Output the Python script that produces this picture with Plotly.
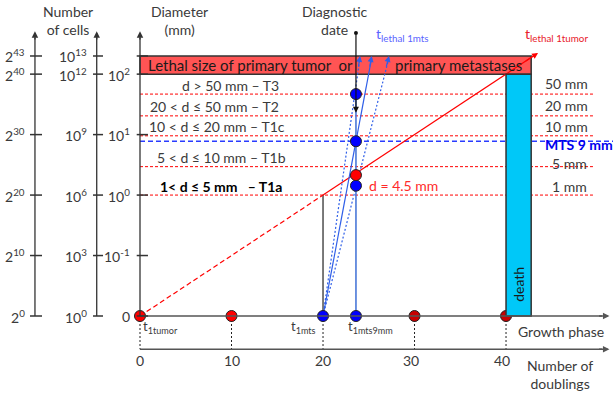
import plotly.graph_objects as go

# ---------------- data ----------------
pow2_exps = [0, 10, 20, 30, 40, 43]          # number of cells, base 2 (also the log2 y scale)
pow10_exps = [0, 3, 6, 9, 12, 13]            # number of cells, base 10
diam_tick_y = [0, 10, 20, 30, 40, 43]
diam_tick_labels = ["0", "10<sup>-1</sup>", "10<sup>0</sup>", "10<sup>1</sup>", "10<sup>2</sup>", ""]
doubling_ticks = [0, 10, 20, 30, 40]

threshold_mm = ["50 mm", "20 mm", "10 mm", "5 mm", "1 mm"]
threshold_y = [36.7, 33.1, 29.8, 24.7, 20.0]
threshold_label_y = [38.4, 34.8, 31.3, 25.2, 21.5]
threshold_label_x = [44.0, 44.0, 44.0, 44.8, 44.8]
stage_labels = ["d > 50 mm – T3", "20 < d ≤ 50 mm – T2", "10 < d ≤ 20 mm – T1c",
                "5 < d ≤ 10 mm – T1b", "<b>1< d ≤ 5 mm   – T1a</b>"]
stage_label_x = [9.84, 8.1, 8.4, 8.96, 8.9]
stage_label_y = [38.2, 34.7, 31.3, 26.2, 21.4]
mts_9mm_y = 28.9

lethal_y = [40, 43]         # lethal size band (log2 cells)
lethal_x_end = 42.75
death_x = [40, 42.75]

tumor_dots_x = [0, 10]
tumor_dots_late_x = [30, 40]
t_first_mts = 20
t_diag = 23.6
diag_dots_y = [36.7, 28.9, 21.55]   # blue dots at diagnostic date
red_diag_dot_y = 23.3
mts_line_end_x = [24.04, 25.32, 27.21]
mts_line_dash = ["2px,2px", "solid", "2px,2px"]
mts_line_top = 43.0
tumor_line = [0, 20, 43.5]   # y = x growth of primary tumor

X0, X1 = -15.3, 51.69
Y0, Y1 = -13.23, 52.26

FONT = "Lato, 'DejaVu Sans', sans-serif"
TXT = "#3a3a3a"
BLUE_LINE = "#2f5fe8"
fig = go.Figure()

def seg(x, y, color, width=1, dash="solid"):
    fig.add_trace(go.Scatter(x=x, y=y, mode="lines", line=dict(color=color, width=width, dash=dash),
                             hoverinfo="skip", showlegend=False))

def arrow(x, y, ax, ay, color, width=1.3, head=2, size=1):
    fig.add_annotation(x=x, y=y, ax=ax, ay=ay, xref="x", yref="y", axref="x", ayref="y",
                       showarrow=True, arrowhead=head, arrowsize=size, arrowwidth=width,
                       arrowcolor=color, text="")

def text(x, y, s, size=14, color=TXT, xanchor="center", yanchor="middle", angle=0):
    fig.add_annotation(x=x, y=y, xref="x", yref="y", text=s, showarrow=False,
                       font=dict(family=FONT, size=size, color=color),
                       xanchor=xanchor, yanchor=yanchor, textangle=angle)

# threshold dashed lines (red)
for ty in threshold_y:
    seg([0, 49.5], [ty, ty], "red", 1, "3px,2px")
# MTS 9 mm line (blue)
seg([0, 51.7], [mts_9mm_y, mts_9mm_y], "#2a3cff", 1.5, "5px,3px")

# dotted vertical guides to the doublings axis
for t in doubling_ticks:
    seg([t, t], [0, -5.5], "#222", 1, "2px,2px")

# black vertical at t_1mts up to 1 mm
seg([t_first_mts, t_first_mts], [0, 20], "#222", 1.2)

# primary tumour growth line
seg(tumor_line[:2], tumor_line[:2], "red", 1.2, "5px,3px")
seg([tumor_line[1], 43.2], [tumor_line[1], 43.2], "red", 1.2)
arrow(tumor_line[2], tumor_line[2], 42.0, 42.0, "red", 1.2)

# metastasis growth lines
for xe, d in zip(mts_line_end_x, mts_line_dash):
    seg([t_first_mts, xe], [0, mts_line_top - 0.3], BLUE_LINE, 1.2, d)
    frac = 2.0 / mts_line_top
    arrow(xe, mts_line_top, xe - (xe - t_first_mts) * frac, mts_line_top - 2.0, BLUE_LINE, 1.2)

# diagnostic date vertical
seg([t_diag, t_diag], [diag_dots_y[0], 0], "#4a78d8", 1.6)
arrow(t_diag, 33.6, t_diag, 46.8, "#111", 1.2)
fig.add_trace(go.Scatter(x=[t_diag], y=[46.8], mode="markers", marker=dict(color="#111", size=4),
                         hoverinfo="skip", showlegend=False))

# dots
mk = dict(size=11, line=dict(color="#222", width=1))
fig.add_trace(go.Scatter(x=tumor_dots_x, y=[0] * len(tumor_dots_x), mode="markers",
                         marker=dict(color="#ff0000", **mk), hoverinfo="skip", showlegend=False))
fig.add_trace(go.Scatter(x=tumor_dots_late_x, y=[0] * len(tumor_dots_late_x), mode="markers",
                         marker=dict(color="#c80000", **mk), hoverinfo="skip", showlegend=False))
fig.add_trace(go.Scatter(x=[t_first_mts, t_diag] + [t_diag] * len(diag_dots_y),
                         y=[0, 0] + diag_dots_y, mode="markers",
                         marker=dict(color="#0000ff", **mk), hoverinfo="skip", showlegend=False))
fig.add_trace(go.Scatter(x=[t_diag], y=[red_diag_dot_y], mode="markers",
                         marker=dict(color="#ff0000", **mk), hoverinfo="skip", showlegend=False))

# lethal band and death box
fig.add_shape(type="rect", x0=0, x1=lethal_x_end, y0=lethal_y[0], y1=lethal_y[1],
              fillcolor="#ff5454", line=dict(color="#333", width=1.5), layer="below")
fig.add_shape(type="rect", x0=death_x[0], x1=death_x[1], y0=0, y1=lethal_y[0],
              fillcolor="#00c8f8", line=dict(color="#333", width=1.5), layer="above")

# axes: growth phase and number of doublings
for ya in [0, -5.5]:
    fig.add_shape(type="line", x0=0, x1=50.5, y0=ya, y1=ya, line=dict(color="#555", width=1.5))
    arrow(51.3, ya, 50.0, ya, "#555", 1.3)

# vertical axes
axis_x = [-11.48, -4.73, 0]
tick_half = [(-12.02, -10.71), (-5.14, -4.04), (-0.36, 0.87)]
for axx, (t0, t1) in zip(axis_x, tick_half):
    fig.add_shape(type="line", x0=axx, x1=axx, y0=0, y1=46, line=dict(color="#333", width=1.3))
    arrow(axx, 47.1, axx, 45.5, "#333", 1.3)
    for ty in pow2_exps:
        fig.add_shape(type="line", x0=t0, x1=t1, y0=ty, y1=ty, line=dict(color="#333", width=1.5))

for e, ty in zip(pow2_exps, pow2_exps):
    text(-12.4, ty, f"2<sup>{e}</sup>", xanchor="right")
for e, ty in zip(pow10_exps, pow2_exps):
    text(-5.6, ty, f"10<sup>{e}</sup>", xanchor="right")
for lab, ty in zip(diam_tick_labels, diam_tick_y):
    if lab:
        text(-0.9, ty, lab, xanchor="right")

# headers
text(-7.9, 48.8, "Number<br>of cells", 14)
text(4.3, 48.8, "Diameter<br>(mm)", 14)
text(21.3, 48.8, "Diagnostic<br>date", 14)
text(25.6, 46.6, "t<sub>lethal 1mts</sub>", 14, "#5a64ff", xanchor="left")
text(41.9, 46.6, "t<sub>lethal 1tumor</sub>", 14, "#e8202a", xanchor="left")

# band text
text(0.7, 41.45, "Lethal size of primary tumor  or", 15, "#1a1a1a", xanchor="left")
text(27.6, 41.45, "primary metastases", 15, "#1a1a1a", xanchor="left")
text(41.4, 5.3, "death", 14, "#1a1a1a", angle=-90)

# stage labels
for s, sx, sy in zip(stage_labels, stage_label_x, stage_label_y):
    col = "#000" if s.startswith("<b>") else TXT
    text(sx, sy, s, 14, col)
for s, sx, sy in zip(threshold_mm, threshold_label_x, threshold_label_y):
    text(sx, sy, s, 14, TXT, xanchor="left")
text(44.0, 28.3, "<b>MTS 9 mm</b>", 14, "#0000ee", xanchor="left")
text(24.8, 21.66, "d = 4.5 mm", 14, "#ff2a2a", xanchor="left")

# time labels
text(0.1, -1.85, "t<sub>1tumor</sub>", 13, TXT, xanchor="left")
text(19.5, -1.85, "t<sub>1mts</sub>", 13, TXT, xanchor="right")
text(22.5, -1.85, "t<sub>1mts9mm</sub>", 13, TXT, xanchor="left")

for t in doubling_ticks:
    text(t - (0.4 if t >= 30 else 0), -7.3, str(t), 14)
text(46.0, -2.6, "Growth phase", 14)
text(45.9, -9.6, "Number of<br>doublings", 14)

fig.update_layout(
    width=613, height=396, margin=dict(l=0, r=0, t=0, b=0),
    paper_bgcolor="white", plot_bgcolor="white",
    xaxis=dict(range=[X0, X1], visible=False, fixedrange=True),
    yaxis=dict(range=[Y0, Y1], visible=False, fixedrange=True),
    showlegend=False,
)
fig.write_html("out.html")
